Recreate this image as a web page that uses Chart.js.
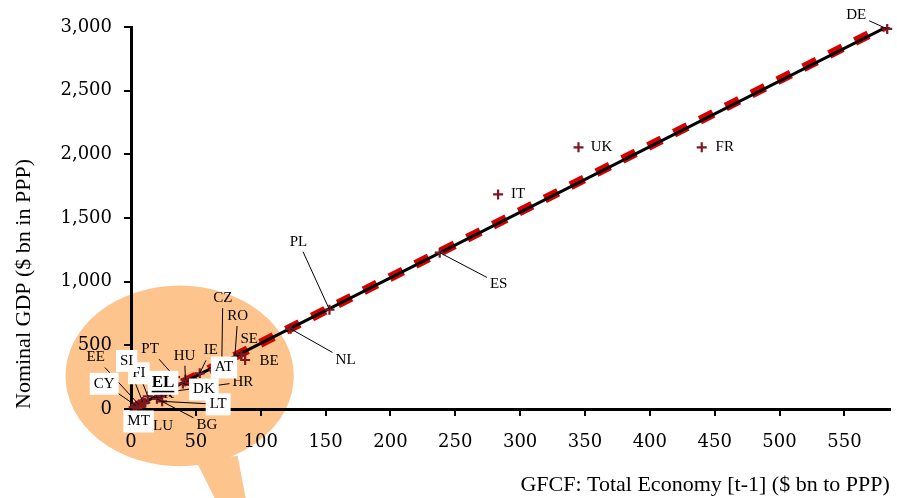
<!DOCTYPE html>
<html><head><meta charset="utf-8">
<script src="https://cdn.jsdelivr.net/npm/chart.js@4"></script>
<style>html,body{margin:0;padding:0;background:#fff;}#wrap{width:897px;height:498px;position:relative;}</style>
</head><body><div id="wrap"><canvas id="c" width="897" height="498"></canvas></div>
<script>
// ---- data ----
const countries = ['DE','FR','UK','IT','ES','PL','NL','BE','SE','RO','CZ','AT','IE','HU','PT','DK','EL','SK','FI','SI','EE','CY','MT','LU','BG','LT','HR','LV'];
const gfcf = [583,440,345,283,238,153,123,88,85,80,70,64,53,42,34,40,27,22,13,9,6,4,2,10,20,24,30,11];
const gdp  = [2985,2055,2055,1685,1228,780,630,385,430,400,360,310,280,230,250,200,190,105,100,55,35,25,12,45,80,60,135,50];
const fitX = [0, 585];
const fitBlackY = [0, 3013];
const fitRedY = [0, 3025];
const xTicks = [0,50,100,150,200,250,300,350,400,450,500,550];
const yTicks = [0,500,1000,1500,2000,2500,3000];

// ---- label layout (pixel offsets from marker) ----
const labelLayout = {
  DE:{dx:-31,dy:-14,leader:true}, FR:{dx:23,dy:0}, UK:{dx:23,dy:0}, IT:{dx:20,dy:0},
  ES:{dx:59,dy:31,leader:true}, PL:{dx:-31,dy:-68,leader:true}, NL:{dx:55,dy:31,leader:true},
  BE:{dx:24,dy:1}, SE:{dx:8,dy:-15}, RO:{dx:3,dy:-42,leader:true}, CZ:{dx:1,dy:-65,leader:true},
  AT:{dx:10,dy:-2,box:true}, IE:{dx:11,dy:-23,leader:true}, HU:{dx:-1,dy:-24,leader:true},
  PT:{dx:-25,dy:-28,leader:true}, DK:{dx:21,dy:6,box:true,leader:true},
  EL:{dx:-3,dy:-2,box:true,bold:true}, SK:{dx:5,dy:-2}, FI:{dx:-9,dy:-23,box:true,leader:true},
  SI:{dx:-16,dy:-41,box:true,leader:true}, EE:{dx:-43,dy:-47,leader:true},
  CY:{dx:-32,dy:-22,box:true,leader:true}, MT:{dx:5,dy:14,box:true}, LU:{dx:19,dy:23},
  BG:{dx:50,dy:26,leader:true}, LT:{dx:56,dy:3,box:true,leader:true}, HR:{dx:73,dy:-10,leader:true}
};

const points = countries.map((c,i)=>({x:gfcf[i], y:gdp[i], c}));
const serif = "'Liberation Serif', 'DejaVu Serif', serif";

const bubblePlugin = {
  id:'bubble',
  beforeDraw(chart){
    const {ctx, scales:{x,y}} = chart;
    const cx = x.getPixelForValue(37.5), cy = y.getPixelForValue(260);
    const rx = x.getPixelForValue(37.5+88) - cx, ry = cy - y.getPixelForValue(260+709);
    ctx.save();
    ctx.fillStyle = 'rgb(253,196,142)';
    ctx.beginPath();
    ctx.ellipse(cx, cy, rx, ry, 0, 0, Math.PI*2);
    ctx.fill();
    ctx.beginPath();
    ctx.moveTo(cx+15, cy+82);
    ctx.lineTo(cx+58, cy+80);
    ctx.lineTo(cx+66, 498);
    ctx.lineTo(cx+35, 498);
    ctx.closePath();
    ctx.fill();
    ctx.restore();
  }
};

const labelPlugin = {
  id:'labels',
  afterDraw(chart){
    const {ctx, scales:{x,y}} = chart;
    const items = [];
    ctx.save();
    countries.forEach((c,i)=>{
      const L = labelLayout[c]; if(!L) return;
      const mx = x.getPixelForValue(gfcf[i]), my = y.getPixelForValue(gdp[i]);
      const font = L.bold ? "bold 17px "+serif : "15px "+serif;
      ctx.font = font;
      const w = ctx.measureText(c).width;
      const h = L.bold ? 16 : 14;
      items.push({c, mx, my, cx:mx+L.dx, cy:my+L.dy, w, h, font, L});
    });
    ctx.strokeStyle = '#000'; ctx.lineWidth = 1;
    items.forEach(it=>{
      if(!it.L.leader) return;
      const hw = it.w/2 + 3, hh = it.h/2 + 3;
      const dx = it.mx - it.cx, dy = it.my - it.cy;
      const t = Math.min(dx ? hw/Math.abs(dx) : Infinity, dy ? hh/Math.abs(dy) : Infinity);
      if (t >= 1) return;
      ctx.beginPath();
      ctx.moveTo(it.cx + dx*t, it.cy + dy*t);
      ctx.lineTo(it.mx, it.my);
      ctx.stroke();
    });
    ctx.textAlign = 'center'; ctx.textBaseline = 'middle';
    items.filter(it=>!it.L.box).forEach(it=>{
      ctx.font = it.font; ctx.fillStyle = '#000';
      ctx.fillText(it.c, it.cx, it.cy);
    });
    items.filter(it=>it.L.box).forEach(it=>{
      const bw = it.w + 8, bh = it.h + 8;
      ctx.fillStyle = '#fff';
      ctx.fillRect(it.cx - bw/2, it.cy - bh/2, bw, bh);
      ctx.font = it.font; ctx.fillStyle = '#000';
      ctx.fillText(it.c, it.cx, it.cy);
      if (it.L.bold) {
        ctx.fillRect(it.cx - it.w/2, it.cy + 8, it.w, 1.5);
      }
    });
    ctx.restore();
  }
};

new Chart(document.getElementById('c'), {
  type:'scatter',
  data:{
    datasets:[
      { label:'Countries', data:points, pointStyle:'cross', pointRadius:5, pointHoverRadius:5,
        borderColor:'#7d1820', backgroundColor:'#7d1820', pointBorderWidth:2.2, order:1, clip:false },
      { label:'Fit', data:fitX.map((v,i)=>({x:v,y:fitBlackY[i]})), showLine:true, pointRadius:0,
        borderColor:'#000', borderWidth:3, order:2 },
      { label:'Fit 2', data:fitX.map((v,i)=>({x:v,y:fitRedY[i]})), showLine:true, pointRadius:0,
        borderColor:'rgb(214,0,0)', borderWidth:9, borderDash:[15,14], borderCapStyle:'butt', order:3 }
    ]
  },
  options:{
    responsive:false, animation:false, devicePixelRatio:1, locale:'en-US',
    layout:{padding:{top:27,right:2,left:0,bottom:0}},
    plugins:{legend:{display:false}, tooltip:{enabled:false}},
    scales:{
      x:{ type:'linear', min:0, max:585,
        afterBuildTicks(s){ s.ticks = xTicks.map(v=>({value:v})); },
        afterFit(s){ s.height = 89; },
        ticks:{ font:{family:"'DejaVu Serif', serif", size:18}, color:'#000', padding:16, maxRotation:0, autoSkip:false },
        grid:{ drawOnChartArea:false, drawTicks:true, tickLength:7, color:'#000', lineWidth:2 },
        border:{ display:true, color:'#000', width:3 },
        title:{ display:true, text:'GFCF: Total Economy [t-1] ($ bn to PPP)', align:'end', color:'#000',
          font:{family:serif, size:22}, padding:{top:0,bottom:0} }
      },
      y:{ type:'linear', min:0, max:3000,
        afterBuildTicks(s){ s.ticks = yTicks.map(v=>({value:v})); },
        afterFit(s){ s.width = 131; },
        ticks:{ font:{family:"'DejaVu Serif', serif", size:18}, color:'#000', padding:12 },
        grid:{ drawOnChartArea:false, drawTicks:true, tickLength:7, color:'#000', lineWidth:2 },
        border:{ display:true, color:'#000', width:3 },
        title:{ display:true, text:'Nominal GDP ($ bn in PPP)', align:'start', color:'#000',
          font:{family:serif, size:22}, padding:{top:11,bottom:0} }
      }
    }
  },
  plugins:[bubblePlugin, labelPlugin]
});
</script></body></html>
